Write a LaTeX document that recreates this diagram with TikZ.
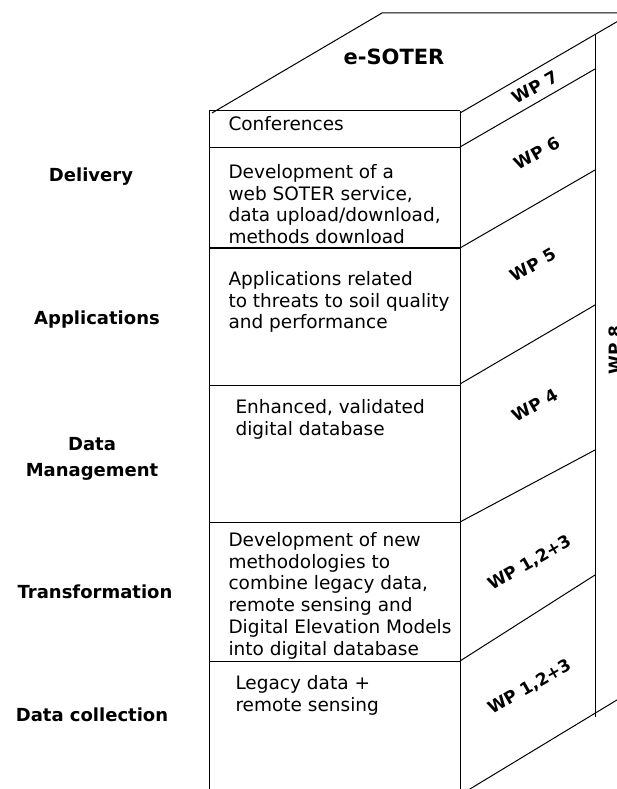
\documentclass[tikz,border=0pt]{standalone}
\usepackage{fontspec}
\setmainfont{DejaVu Sans}
\usetikzlibrary{positioning}

\begin{document}
\begin{tikzpicture}[x=1pt,y=-1pt,line width=1pt,
  boxtext/.style={anchor=north west,align=left,inner sep=0pt,font=\fontsize{18.5}{21.7}\selectfont},
  stage/.style={align=center,inner sep=0pt,font=\fontsize{18}{26}\selectfont\bfseries},
  wplabel/.style={inner sep=0pt,font=\fontsize{17}{20}\selectfont\bfseries},
  wp/.style={wplabel,rotate=30}]
  \useasboundingbox (0,0) rectangle (617,789);
  \clip (0,0) rectangle (617,789);

  % top of the block
  \draw (212,113) -- (382,13) -- (660,13);
  \draw (460,113) -- (632,13);
  \node (title) [font=\fontsize{21}{25}\selectfont\bfseries] at (394,57) {e-SOTER};

  % front face
  \draw (209,111) -- (460,111);
  \draw (209,111) -- (209,800);
  \draw (460,111) -- (460,800);
  \foreach \y in {147,385,661}
    \draw (209,\y) -- (460,\y);
  \foreach \y in {248,522.5}
    \draw [line width=1.6pt] (209,\y) -- (460,\y);

  % side face
  \foreach \a/\b in {147/69,248/170,384/305,522/450,661/575}
    \draw (460,\a) -- (595,\b);
  \draw (595,35) -- (595,717);
  \draw (460,795) -- (640,686);

  \node (conf)   [boxtext] at (228,116) {Conferences};
  \node (web)    [boxtext] at (228,164) {Development of a\\web SOTER service,\\data upload/download,\\methods download};
  \node (appl)   [boxtext] at (228,271) {Applications related\\to threats to soil quality\\and performance};
  \node (enh)    [boxtext] at (235,399) {Enhanced, validated\\digital database};
  \node (method) [boxtext] at (228,532) {Development of new\\methodologies to\\combine legacy data,\\remote sensing and\\Digital Elevation Models\\into digital database};
  \node (legacy) [boxtext] at (235,675) {Legacy data +\\remote sensing};

  \node (delivery) [stage] at (91,177) {Delivery};
  \node (apps)     [stage] at (97,320) {Applications};
  \node (dm)       [stage] at (92,459) {Data\\Management};
  \node (trans)    [stage] at (95,592) {Transformation};
  \node (coll)     [stage] at (92,715) {Data collection};

  \node (wp7)  [wp] at (535,87)  {WP 7};
  \node (wp6)  [wp] at (537,153) {WP 6};
  \node (wp5)  [wp] at (533,265) {WP 5};
  \node (wp4)  [wp] at (535,405) {WP 4};
  \node (wp3a) [wp] at (530,563) {WP 1,2+3};
  \node (wp3b) [wp] at (530,687) {WP 1,2+3};
  \node (wp8)  [wplabel,rotate=90] at (615,350) {WP 8};
\end{tikzpicture}
\end{document}
